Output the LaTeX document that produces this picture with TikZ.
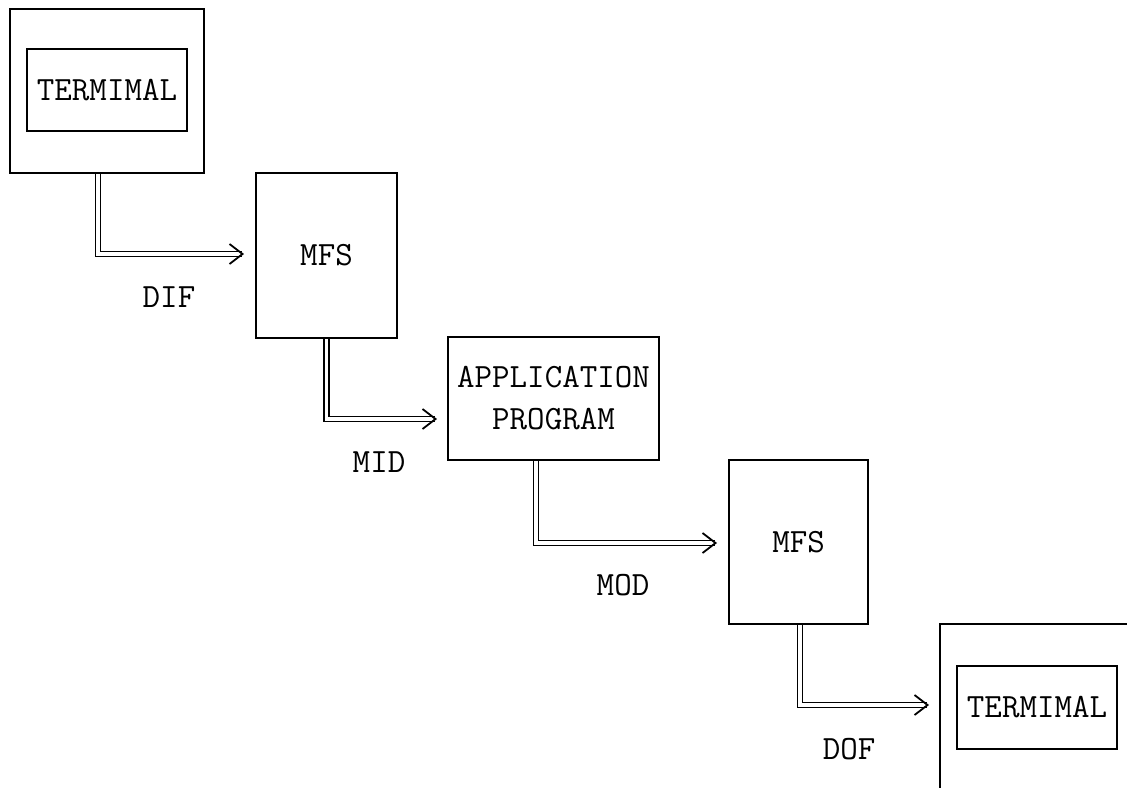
\documentclass[tikz,border=0pt]{standalone}
\usetikzlibrary{arrows.meta,calc}
\begin{document}
\begin{tikzpicture}[x=0.5pt,y=-0.5pt,
  box/.style={draw, line width=1pt, inner sep=0pt, font=\ttfamily\fontsize{17}{21}\selectfont, align=center},
  lbl/.style={font=\ttfamily\fontsize{17}{21}\selectfont, inner sep=0pt},
  conn/.style={double, line width=0.8pt, double distance=1.7pt,
    -{Straight Barb[length=6.5pt, width=10pt, line width=0.9pt]}}]
\useasboundingbox (0,0) rectangle (1127,787);
\clip (0,0) rectangle (1127,787);
% terminal 1
\node[box, minimum width=97pt, minimum height=82pt] (t1) at (107,91) {};
\node[box, minimum width=80pt, minimum height=41pt] (t1i) at (107,90) {TERMIMAL};
% MFS 1
\node[box, minimum width=70.5pt, minimum height=82.5pt] (m1) at (326.5,255.5) {MFS};
% application program
\node[box, minimum width=105.5pt, minimum height=61.5pt] (app) at (553.5,398.5) {APPLICATION\\PROGRAM};
% MFS 2
\node[box, minimum width=69.5pt, minimum height=82pt] (m2) at (798.5,542) {MFS};
% terminal 2
\node[box, minimum width=130pt, minimum height=138pt] (t2) at (1070,762) {};
\node[box, minimum width=80pt, minimum height=41.5pt] (t2i) at (1037,707.5) {TERMIMAL};
% connectors
\draw[conn] ($(t1.south)+(-9,0)$) |- ($(m1.west)+(-11,-1.5)$);
\draw[conn] ($(m1.south)+(0,0)$) |- ($(app.west)+(-10,20.5)$);
\draw[conn] ($(app.south)+(-17.5,0)$) |- ($(m2.west)+(-11,1)$);
\draw[conn] ($(m2.south)+(1.5,0)$) |- ($(t2.west)+(-10,-57)$);
% labels
\node[lbl] (dif) at (169,297) {DIF};
\node[lbl] (mid) at (379,462) {MID};
\node[lbl] (mod) at (623,585) {MOD};
\node[lbl] (dof) at (849,749) {DOF};
\end{tikzpicture}
\end{document}
